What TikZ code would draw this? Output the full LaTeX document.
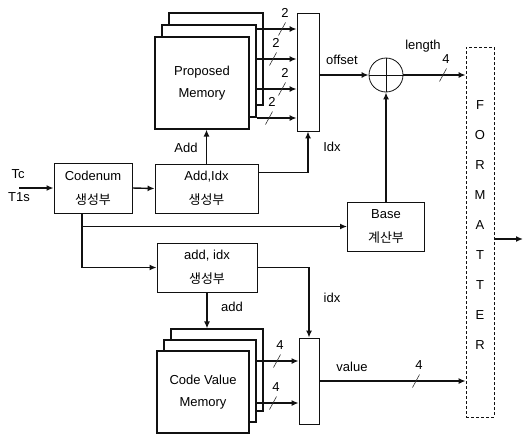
\documentclass[tikz,border=0pt]{standalone}
\usepackage{fontspec}
\setmainfont{Liberation Sans}
\newfontfamily\hangul{Noto Sans CJK KR}
\usetikzlibrary{arrows.meta,calc,positioning}
\definecolor{WireBlack}{HTML}{111111}
\definecolor{SlashGray}{HTML}{333333}
\tikzset{
  sigarrow/.style={-{Latex[length=7pt,width=6pt]},line width=1.4pt,draw=WireBlack},
  block/.style={draw=WireBlack,line width=0.9pt,fill=white,align=center,inner sep=0pt,font=\fontsize{13}{24}\selectfont},
  sheet/.style={draw=WireBlack,line width=1.2pt,fill=white,align=center,inner sep=0pt,font=\fontsize{13}{22}\selectfont},
  muxbox/.style={draw=WireBlack,line width=0.8pt,fill=white,inner sep=0pt},
  fmtbox/.style={draw=WireBlack,line width=0.8pt,dash pattern=on 3pt off 2pt,inner sep=0pt},
  sumnode/.style={circle,draw=WireBlack,line width=0.8pt,minimum size=34pt,inner sep=0pt},
  lbl/.style={font=\fontsize{13}{15}\selectfont,inner sep=1pt},
  busslash/.style={line width=0.6pt,draw=SlashGray}
}
% bus width mark: x, y, width
\newcommand{\buswidth}[3]{%
  \draw[busslash] (#1-3.5,#2+6.5) -- (#1+3.5,#2-6.5);
  \node[lbl] at (#1+3,#2-16) {#3};}

\begin{document}
\begin{tikzpicture}[x=1pt,y=-1pt]
  \useasboundingbox (0,0) rectangle (526,434);

  % proposed memory stack
  \node[sheet,minimum width=94pt,minimum height=92pt] (pmemB) at (216,59) {};
  \node[sheet,minimum width=94pt,minimum height=92pt] (pmemM) at (209,71) {};
  \node[sheet,minimum width=94pt,minimum height=92pt] (pmem) at (202,83) {Proposed\\Memory};
  \node[muxbox,minimum width=22pt,minimum height=118pt] (mux1) at (308,72) {};

  % generators
  \node[block,minimum width=78pt,minimum height=50pt] (codenum) at (93,188) {Codenum\\\hangul 생성부};
  \node[block,minimum width=103pt,minimum height=49pt] (addidx) at (206.5,188.5) {Add,Idx\\\hangul 생성부};
  \node[block,minimum width=100pt,minimum height=49pt] (addgen) at (207,267.5) {add, idx\\\hangul 생성부};
  \node[block,minimum width=77pt,minimum height=49pt] (base) at (386,226.5) {Base\\\hangul 계산부};

  % adder
  \node[sumnode] (adder) at (386,75) {};
  \draw[line width=0.8pt,draw=WireBlack] (adder.north) -- (adder.south) (adder.west) -- (adder.east);

  % code value memory stack
  \node[sheet,minimum width=92pt,minimum height=82pt] (cvmB) at (217,370) {};
  \node[sheet,minimum width=92pt,minimum height=82pt] (cvmM) at (210,381) {};
  \node[sheet,minimum width=92pt,minimum height=82pt] (cvm) at (203,392) {Code Value\\Memory};
  \node[muxbox,minimum width=20pt,minimum height=86pt] (mux2) at (309,381) {};

  % formatter
  \node[fmtbox,minimum width=28pt,minimum height=370pt] (fmt) at (480,232) {};
  \foreach \ch [count=\i] in {F,O,R,M,A,T,T,E,R}
    \node[lbl] (fmt-\i) at (480,75+30*\i) {\ch};

  % inputs
  \coordinate (insrc) at (19,188);
  \node[lbl] (tc) at (18,174) {Tc};
  \node[lbl] (t1s) at (19,197) {T1s};
  \draw[sigarrow] (insrc) -- (codenum.west);
  \draw[sigarrow] (codenum.east) -- (addidx.west);

  % upper path
  \draw[sigarrow] (addidx.north) -- (addidx.north |- pmem.south);
  \node[lbl] (addlbl) at (186,148) {Add};
  \foreach \wy/\lx in {29/282,59/273,89/282,118/269}{
    \draw[sigarrow] (pmemM.east |- 0,\wy) -- (mux1.west |- 0,\wy);
    \buswidth{\lx}{\wy}{2}
  }
  \draw[sigarrow] ([yshift=-9pt]addidx.north east) -| (mux1.south);
  \node[lbl] (idxlbl) at (332,147) {Idx};
  \draw[sigarrow] (mux1.east |- adder.west) -- (adder.west);
  \node[lbl] (offlbl) at (342,60) {offset};
  \draw[sigarrow] (base.north) -- (adder.south);
  \draw[sigarrow] (adder.east) -- (adder.east -| fmt.west);
  \buswidth{443}{75}{4}
  \node[lbl] (lenlbl) at (423,46) {length};

  % lower path
  \coordinate (tap) at ([xshift=-11pt]codenum.south);
  \draw[sigarrow] (tap) |- (addgen.west);
  \draw[sigarrow] (tap |- base.west) -- (base.west);
  \draw[sigarrow] (addgen.south) -- (addgen.south |- cvmB.north);
  \node[lbl] (addlbl2) at (232,307) {add};
  \draw[sigarrow] (addgen.east) -| (mux2.north);
  \node[lbl] (idxlbl2) at (332,298) {idx};
  \foreach \wy/\lx in {361/277,403/273}{
    \draw[sigarrow] (cvmM.east |- 0,\wy) -- (mux2.west |- 0,\wy);
    \buswidth{\lx}{\wy}{4}
  }
  \draw[sigarrow] (mux2.east) -- (mux2.east -| fmt.west);
  \buswidth{416}{381}{4}
  \node[lbl] (vallbl) at (352,367) {value};

  % output
  \coordinate (outsnk) at (523,239);
  \draw[sigarrow] (fmt.east |- outsnk) -- (outsnk);
\end{tikzpicture}
\end{document}
